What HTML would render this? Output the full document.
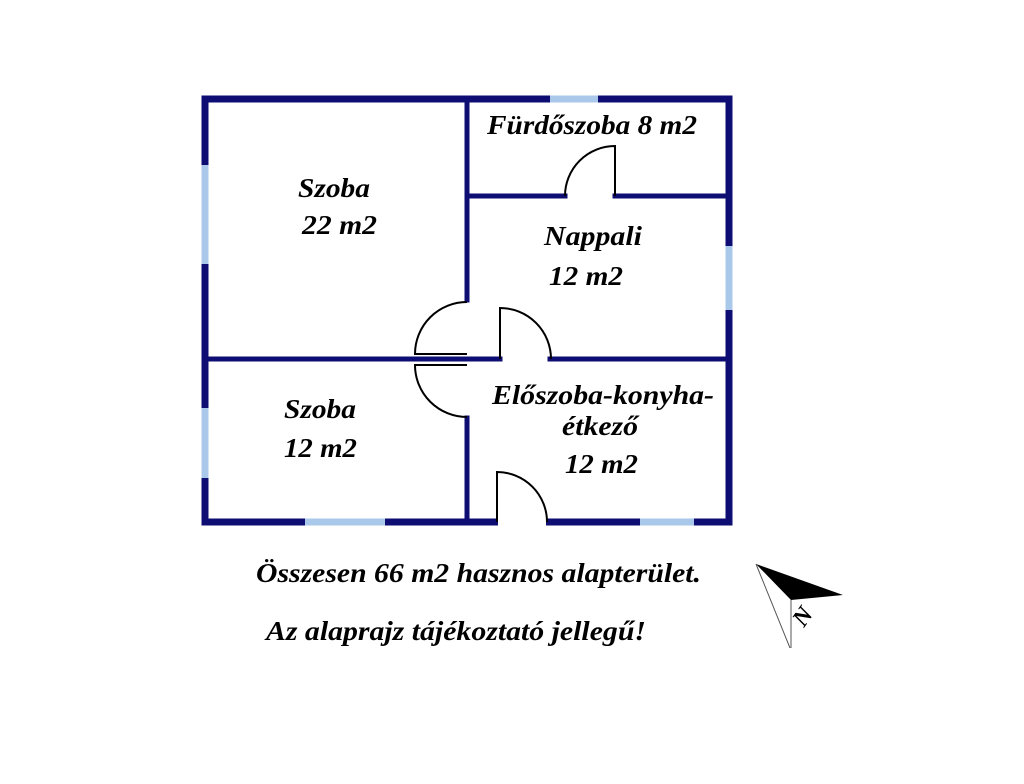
<!DOCTYPE html>
<html><head><meta charset="utf-8"><style>
body{margin:0;background:#fff;width:1024px;height:779px;overflow:hidden}
text{font-family:"Liberation Serif",serif;font-weight:bold;font-style:italic;fill:#000}
</style></head><body>
<svg width="1024" height="779" viewBox="0 0 1024 779" xmlns="http://www.w3.org/2000/svg">
<g stroke="#0d0d73" fill="none" stroke-linecap="square">
<rect x="205" y="99" width="524" height="423" stroke-width="7"/>
<path d="M467 99V300M467 418V522" stroke-width="5"/>
<path d="M208 359H500M550 359H726" stroke-width="5"/>
<path d="M467 196H565M615 196H726" stroke-width="5"/>
</g>
<g stroke="#a9c8ea" stroke-width="7">
<path d="M550 99H598"/>
<path d="M205 165V264M205 408V478"/>
<path d="M729 246V310"/>
<path d="M305 522H385M640 522H694"/>
</g>
<g stroke="#fff" stroke-width="9"><path d="M498 522H546"/></g>
<g stroke="#000" stroke-width="2" fill="none">
<path d="M615 196V146A50 50 0 0 0 565 196"/>
<path d="M467 354H415A52 52 0 0 1 467 302"/>
<path d="M500 359V308A51 51 0 0 1 551 359"/>
<path d="M467 365H415A52 52 0 0 0 467 417"/>
<path d="M497 522V472A50 50 0 0 1 547 522"/>
</g>
<g font-size="27" lengthAdjust="spacingAndGlyphs">
<text x="487" y="134" textLength="210" lengthAdjust="spacingAndGlyphs">Fürdőszoba 8 m2</text>
<text x="298" y="197" textLength="72" lengthAdjust="spacingAndGlyphs">Szoba</text>
<text x="302" y="234" textLength="75" lengthAdjust="spacingAndGlyphs">22 m2</text>
<text x="544" y="245" textLength="98" lengthAdjust="spacingAndGlyphs">Nappali</text>
<text x="549" y="285" textLength="74" lengthAdjust="spacingAndGlyphs">12 m2</text>
<text x="284" y="418" textLength="72" lengthAdjust="spacingAndGlyphs">Szoba</text>
<text x="284" y="457" textLength="73" lengthAdjust="spacingAndGlyphs">12 m2</text>
<text x="492" y="404" textLength="222" lengthAdjust="spacingAndGlyphs">Előszoba-konyha-</text>
<text x="562" y="435" textLength="76" lengthAdjust="spacingAndGlyphs">étkező</text>
<text x="565" y="473" textLength="73" lengthAdjust="spacingAndGlyphs">12 m2</text>
<text x="256" y="582" textLength="445" lengthAdjust="spacingAndGlyphs">Összesen 66 m2 hasznos alapterület.</text>
<text x="266" y="640" textLength="380" lengthAdjust="spacingAndGlyphs">Az alaprajz tájékoztató jellegű!</text>
</g>
<path d="M756 564L843 595L791 600Z" fill="#000"/>
<path d="M756 564L790 648M791 600V648" stroke="#555" stroke-width="1" fill="none"/>
<text x="0" y="0" font-size="24" font-style="normal" font-weight="normal" transform="translate(804 628) rotate(-55)">N</text>
</svg>
</body></html>
